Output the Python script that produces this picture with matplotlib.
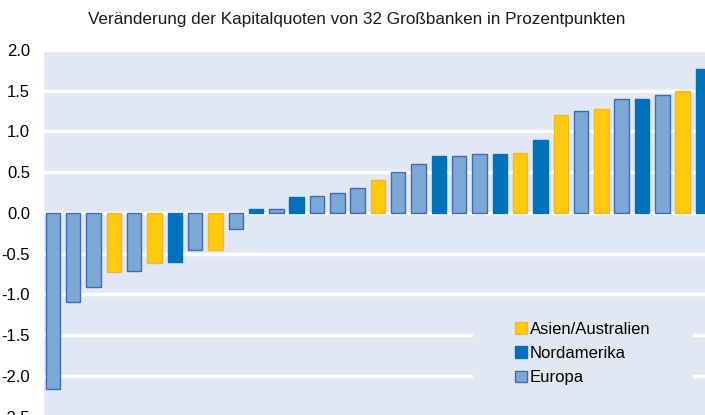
import numpy as np
import matplotlib
matplotlib.use("Agg")
import matplotlib.pyplot as plt
from matplotlib.patches import Patch, Rectangle

plt.rcParams["font.family"] = ["Liberation Sans", "DejaVu Sans"]

# change in capital ratios (percentage points), sorted ascending
values = [-2.16, -1.10, -0.91, -0.72, -0.71, -0.61, -0.60, -0.45, -0.45, -0.20,
          0.05, 0.05, 0.20, 0.21, 0.25, 0.30, 0.40, 0.50, 0.60, 0.70,
          0.70, 0.72, 0.72, 0.73, 0.90, 1.20, 1.25, 1.28, 1.40, 1.40,
          1.45, 1.50, 1.77]
regions = ["EU", "EU", "EU", "AS", "EU", "AS", "NA", "EU", "AS", "EU",
           "NA", "EU", "NA", "EU", "EU", "EU", "AS", "EU", "EU", "NA",
           "EU", "EU", "NA", "AS", "NA", "AS", "EU", "AS", "EU", "NA",
           "EU", "AS", "NA"]
region_labels = {"AS": "Asien/Australien", "NA": "Nordamerika", "EU": "Europa"}
yticks = [-2.5, -2.0, -1.5, -1.0, -0.5, 0.0, 0.5, 1.0, 1.5, 2.0]

bg = "#e1e8f4"
face = {"AS": "#ffc90c", "NA": "#0071bb", "EU": "#7ba8d4"}
edge = {"AS": "#f6b42a", "NA": "#0071bb", "EU": "#3c6cb3"}

fig = plt.figure(figsize=(7.05, 4.15), dpi=100)
# axes runs past the right and bottom edge, like the cropped original
ax = fig.add_axes([44 / 705, -1.5 / 415, 671 / 705, 366.5 / 415])
ax.set_facecolor(bg)
for s in ax.spines.values():
    s.set_visible(False)

x = np.arange(len(values))
ax.bar(x, values, width=0.71,
       color=[face[r] for r in regions],
       edgecolor=[edge[r] for r in regions],
       linewidth=1.0, zorder=3)

ax.set_xlim(-0.44, (715 - 53) / 20.31)
ax.set_ylim(-2.5, 2.0)
ax.set_xticks([])
ax.set_yticks(yticks)
ax.set_yticklabels([f"{t:.1f}" for t in yticks], fontsize=12)
ax.tick_params(axis="y", length=0, pad=10)
ax.grid(axis="y", color="white", linewidth=2.5, zorder=1)
ax.set_axisbelow(True)

# legend sits on a plain patch that hides the gridlines
ax.add_patch(Rectangle((0.639, 0.0), 0.328, 0.318, transform=ax.transAxes,
                       facecolor=bg, edgecolor="none", zorder=2))
handles = [Patch(facecolor=face[k], edgecolor=edge[k], label=region_labels[k])
           for k in ["AS", "NA", "EU"]]
ax.legend(handles=handles, loc="upper left", bbox_to_anchor=(0.6895, 0.281),
          frameon=False, fontsize=12, borderpad=0, handlelength=0.7,
          handleheight=0.7, handletextpad=0.2, labelspacing=0.55)

fig.text(0.506, 0.952, "Veränderung der Kapitalquoten von 32 Großbanken in Prozentpunkten",
         ha="center", va="center", fontsize=12.3, color="#1a1a1a")

fig.savefig("out.png", dpi=100)
